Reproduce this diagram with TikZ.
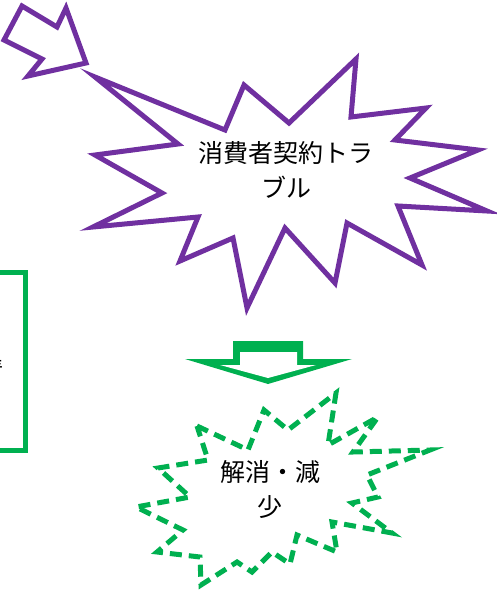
\documentclass[tikz,border=0pt]{standalone}
\usepackage{fontspec}
\newfontfamily\jp{Noto Sans CJK JP}
\definecolor{purp}{HTML}{7030A0}
\definecolor{grn}{HTML}{00B050}
\begin{document}
\begin{tikzpicture}[x=1pt,y=-1pt,
  purpline/.style={draw=purp,line width=5pt,line join=miter,miter limit=10},
  grnline/.style={draw=grn,line width=5pt},
  grndash/.style={draw=grn,line width=5pt,dash pattern=on 12pt off 7pt,line join=miter,miter limit=10},
  label/.style={font=\jp\fontsize{25}{35}\selectfont,align=center,text=black,inner sep=0pt}]
\useasboundingbox (0,0) rectangle (497,596);
% top-left purple arrow
\draw[purpline,fill=white] (22,6) -- (57,27) -- (66,8) -- (86,63) -- (28,76) -- (42,59) -- (4,40) -- cycle;
% purple starburst
\draw[purpline,fill=white] (95,77) -- (225,130) -- (244,85) -- (289,123) -- (356,59) -- (351,117)
  -- (426,108) -- (395,140) -- (478,150) -- (410,178) -- (487,211) -- (398,206) -- (422,265)
  -- (347,223) -- (335,283) -- (285,228) -- (247,308) -- (233,238) -- (180,261) -- (198,217)
  -- (93,227) -- (162,193) -- (95,155) -- (178,144) -- cycle;
\node[label] (trouble) at (286,170) {消費者契約トラ\\ブル};
% left green box (cut off)
\draw[grnline] (-20,272.5) -- (25.5,272.5) -- (25.5,450.5) -- (-20,450.5);
\node[label,anchor=east] (leftcut) at (4,370) {情};
% green block arrow
\fill[grn] (233,341) -- (303,341) -- (303,359) -- (352,359) -- (268,384) -- (185,359) -- (233,359) -- cycle;
\fill[white] (240,352) -- (297,352) -- (297,365) -- (316,365) -- (268,378) -- (220,365) -- (240,365) -- cycle;
% green dashed starburst
\draw[grndash,fill=white] (197,426) -- (248,450) -- (264,410) -- (288,430) -- (336,393) -- (328,445)
  -- (378,417) -- (353,452) -- (430,450) -- (367,475) -- (378,497) -- (352,503) -- (392,533)
  -- (332,522) -- (337,552) -- (297,535) -- (290,564) -- (272,552) -- (252,572) -- (237,562)
  -- (201,585) -- (200,557) -- (157,552) -- (183,530) -- (136,507) -- (190,497) -- (158,468)
  -- (208,460) -- cycle;
\node[label] (reduce) at (270,489.5) {解消・減\\少};
\end{tikzpicture}
\end{document}
